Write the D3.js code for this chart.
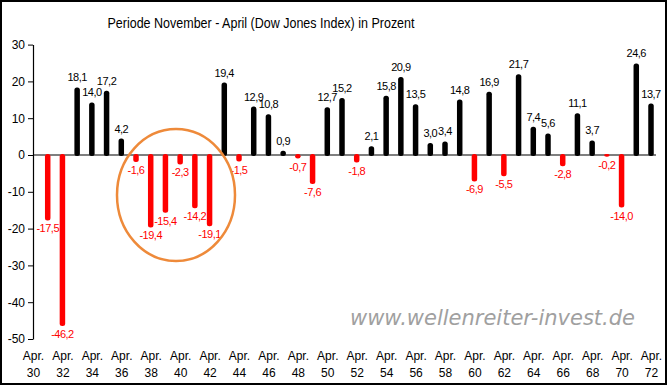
<!DOCTYPE html>
<html>
<head>
<meta charset="utf-8">
<script src="https://cdn.jsdelivr.net/npm/d3@7"></script>
<style>
  body { margin: 0; background: #fff; }
  svg { display: block; font-family: "Liberation Sans", Arial, sans-serif; }
</style>
</head>
<body>
<svg id="chart"></svg>
<script>
// years of the period end (Apr.), 1930 has no value
const years = d3.range(1930, 1973)
const values = [null, -17.5, -46.2, 18.1, 14.0, 17.2, 4.2, -1.6, -19.4, -15.4, -2.3, -14.2, -19.1,
  19.4, -1.5, 12.9, 10.8, 0.9, -0.7, -7.6, 12.7, 15.2, -1.8, 2.1, 15.8, 20.9, 13.5,
  3.0, 3.4, 14.8, -6.9, 16.9, -5.5, 21.7, 7.4, 5.6, -2.8, 11.1, 3.7, -0.2, -14.0, 24.6, 13.7]
const yTicks = [30, 20, 10, 0, -10, -20, -30, -40, -50]
const tickYears = years.filter(y => y % 2 === 0)

const W = 668, H = 386

const svg = d3.select('#chart')
  .attr('width', W)
  .attr('height', H)

const data = years.map((y, i) => ({ year: y, value: values[i] })).filter(d => d.value !== null)

const x = d3.scalePoint().domain(years).range([33, 651])
const y = d3.scaleLinear().domain([-50, 30]).range([339, 44.6])

// frame
svg.append('rect')
  .attr('x', 1).attr('y', 1)
  .attr('width', W - 3).attr('height', H - 3)
  .attr('fill', 'none').attr('stroke', '#000').attr('stroke-width', 2)

// title
svg.append('text')
  .attr('x', 261).attr('y', 28)
  .attr('text-anchor', 'middle')
  .attr('font-size', 15)
  .attr('textLength', 307)
  .attr('lengthAdjust', 'spacingAndGlyphs')
  .text('Periode November - April (Dow Jones Index) in Prozent')

// watermark
svg.append('text')
  .attr('x', 350).attr('y', 325)
  .attr('font-family', '"DejaVu Sans", Verdana, sans-serif')
  .attr('font-style', 'italic')
  .attr('font-size', 21)
  .attr('fill', '#a0a0a0')
  .attr('textLength', 285)
  .attr('lengthAdjust', 'spacingAndGlyphs')
  .text('www.wellenreiter-invest.de')

// y axis (hyphen as minus like the original)
const yAxis = svg.append('g')
  .attr('transform', 'translate(33,0)')
  .call(d3.axisLeft(y).tickValues(yTicks).tickSize(5).tickSizeOuter(0).tickFormat(d => String(d)))
yAxis.select('.domain').attr('stroke', '#000').attr('stroke-width', 1.2)
yAxis.selectAll('.tick line').attr('stroke', '#000')
yAxis.selectAll('.tick text')
  .attr('font-size', 12)
  .attr('font-family', '"Liberation Sans", Arial, sans-serif')
  .attr('fill', '#000')
  .attr('x', -8)

// zero line
svg.append('line')
  .attr('x1', 33).attr('x2', 656)
  .attr('y1', y(0)).attr('y2', y(0))
  .attr('stroke', '#000').attr('stroke-width', 1.2)

// x labels
const xAxis = svg.append('g')
  .attr('transform', 'translate(0,346)')
  .call(d3.axisBottom(x).tickValues(tickYears).tickSize(0).tickFormat(''))
xAxis.select('.domain').remove()
xAxis.selectAll('.tick').each(function (d) {
  const t = d3.select(this).append('text')
    .attr('text-anchor', 'middle')
    .attr('font-size', 12)
    .attr('fill', '#000')
  t.append('tspan').attr('x', 0).attr('y', 14).text('Apr.')
  t.append('tspan').attr('x', 0).attr('y', 31).text(String(d).slice(2))
})

// bars
const bw = 5.5
svg.append('g').selectAll('rect')
  .data(data)
  .join('rect')
  .attr('x', d => x(d.year) - bw / 2)
  .attr('y', d => Math.min(y(d.value), y(0)) - 1)
  .attr('width', bw)
  .attr('height', d => Math.abs(y(d.value) - y(0)) + 2)
  .attr('rx', 2.5)
  .attr('fill', d => d.value >= 0 ? '#000' : '#ff0000')

// value labels, german decimal comma
const fmt = v => v.toFixed(1).replace('.', ',')
svg.append('g').selectAll('text')
  .data(data)
  .join('text')
  .attr('x', d => x(d.year))
  .attr('y', d => d.value >= 0 ? y(d.value) - 7 : y(d.value) + 13)
  .attr('text-anchor', 'middle')
  .attr('font-size', 11)
  .attr('letter-spacing', -0.5)
  .attr('fill', d => d.value >= 0 ? '#000' : '#ff0000')
  .text(d => fmt(d.value))

// highlight circle
svg.append('ellipse')
  .attr('cx', 176).attr('cy', 195)
  .attr('rx', 59).attr('ry', 66)
  .attr('fill', 'none')
  .attr('stroke', '#ee8a3a')
  .attr('stroke-width', 2.5)
</script>
</body>
</html>
